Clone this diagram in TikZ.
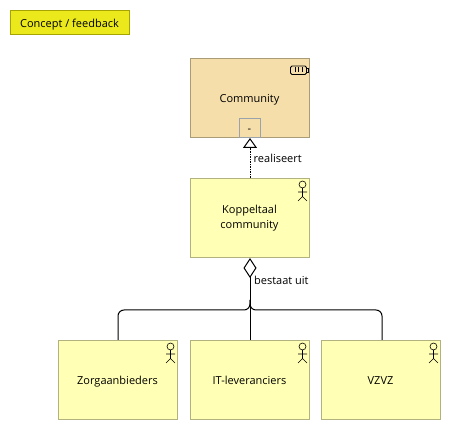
\documentclass[tikz,border=0pt]{standalone}
\usepackage{fontspec}
\setmainfont{Open Sans}
\usetikzlibrary{arrows.meta, calc}
\definecolor{ActorFill}{HTML}{FFFFB5}
\definecolor{ActorLine}{HTML}{B2B27E}
\definecolor{ValueFill}{HTML}{F5DEAA}
\definecolor{ValueLine}{HTML}{AB9C78}
\definecolor{NoteFill}{HTML}{EBE91C}
\definecolor{NoteLine}{HTML}{A5A400}
\definecolor{SlotLine}{HTML}{9AA3AB}
\tikzset{
  box/.style={draw=ActorLine, fill=ActorFill, line width=1pt, minimum width=119pt, minimum height=79pt, inner sep=2pt, align=center, font=\fontsize{11}{15}\selectfont, execute at begin node={\rule{0pt}{13pt}}, execute at end node={\rule[-3pt]{0pt}{3pt}}},
  valuebox/.style={box, draw=ValueLine, fill=ValueFill},
  notebox/.style={box, draw=NoteLine, fill=NoteFill, minimum height=24pt},
  slotbox/.style={draw=SlotLine, line width=1pt, minimum width=21pt, minimum height=19pt, inner sep=0pt, text height=9pt, text depth=0pt, font=\fontsize{11}{12}\selectfont},
  rellabel/.style={right, inner sep=0pt, font=\fontsize{11}{12}\selectfont},
  conn/.style={line width=1pt, black},
  actoricon/.pic={
    \draw[line width=0.6pt] (0,-3.5) circle (3.5);
    \draw[line width=0.6pt] (0,0) -- (0,8.5) (-4.5,4) -- (4.5,4) (-4.5,13) -- (0,8.5) -- (4.5,13);
  },
}
\begin{document}
\begin{tikzpicture}[x=1pt, y=-1pt]
  \useasboundingbox (0,0) rectangle (451,430);
  % Note
  \node[notebox] (note) at (69.5,22.5) {Concept / feedback};
  % Top element
  \node[valuebox] (community) at (249.5,98) {Community};
  \node[slotbox, anchor=south] (slot) at (community.south) {-};
  % Battery icon
  \draw[line width=0.8pt, rounded corners=1.5pt] (290.5,66) rectangle (306.5,74.5);
  \draw[line width=0.8pt] (306.5,68) -- (308,68) -- (308,72) -- (306.5,72);
  \draw[line width=0.8pt] (295,67.5) -- (295,72.5) (298.5,67.5) -- (298.5,72.5) (302,67.5) -- (302,72.5);
  % Actors
  \node[box] (koppeltaal) at (249.5,218) {Koppeltaal\\community};
  \node[box] (zorg) at (117.5,380) {Zorgaanbieders};
  \node[box] (it) at (249.5,380) {IT-leveranciers};
  \node[box] (vzvz) at (380.5,380) {VZVZ};
  \foreach \n in {koppeltaal, zorg, it, vzvz} {
    \pic at ($(\n.north east)+(-7,10)$) {actoricon};
  }
  % Realization
  \draw[conn, dash pattern=on 1.5pt off 1pt, -{Triangle[open, fill=white, length=10pt, width=14pt, line width=1pt]}] ([xshift=0.5pt]koppeltaal.north) -- ([xshift=0.5pt]slot.south);
  \node[rellabel] (realiseert) at (253.5,158) {realiseert};
  % Aggregation
  \coordinate (split) at (250,310);
  \draw[conn, {Diamond[open, fill=white, length=20pt, width=13pt, line width=1pt]}-] ([xshift=0.5pt]koppeltaal.south) -- ([xshift=0.5pt]it.north);
  \draw[conn, rounded corners=6pt] (250,300) -- (split) -| ([xshift=0.5pt]zorg.north);
  \draw[conn, rounded corners=6pt] (250,300) -- (split) -| ([xshift=1.5pt]vzvz.north);
  \node[rellabel] (bestaat) at (254,280) {bestaat uit};
\end{tikzpicture}
\end{document}
